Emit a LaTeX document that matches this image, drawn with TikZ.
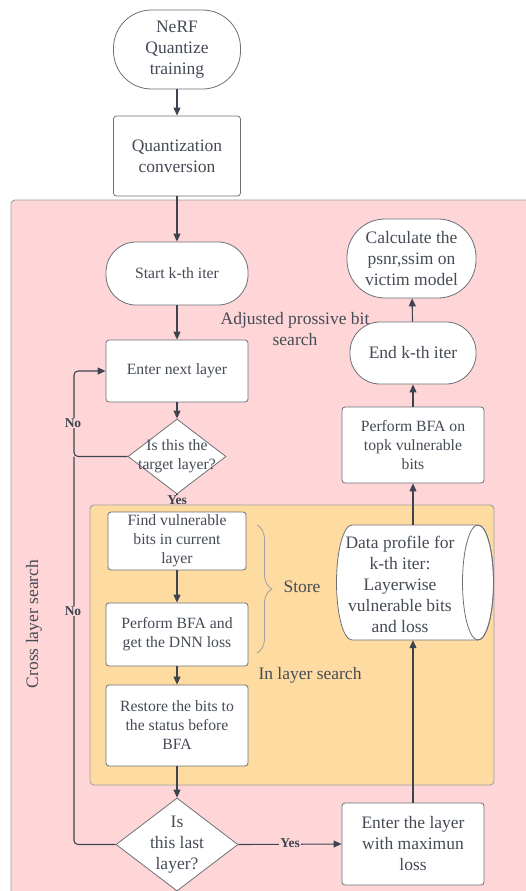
\documentclass[tikz,border=0pt]{standalone}
\usepackage{fontspec}
\setmainfont{Liberation Serif}
\usepackage{tikz}
\usetikzlibrary{shapes.geometric,arrows.meta,decorations.pathreplacing}
\definecolor{vpink}{HTML}{FFD6D7}
\definecolor{vorange}{HTML}{FEDBA0}
\definecolor{vline}{HTML}{3D4450}
\definecolor{vtext}{HTML}{454B55}
\definecolor{vborder}{HTML}{6B7078}
\definecolor{vframe}{HTML}{A0A0A0}
\newcommand{\bigtxt}{\fontsize{17.5}{21}\selectfont}
\newcommand{\midtxt}{\fontsize{15.7}{19}\selectfont}
\newcommand{\lbltxt}{\fontsize{13.5}{15}\selectfont\bfseries}
\tikzset{
	base/.style={draw=vborder, fill=white, text=vtext, align=center, line width=0.8pt, inner sep=0pt},
	term/.style={base, rounded corners=#1},
	proc/.style={base, rounded corners=3pt},
	decision/.style={base, diamond},
	conn/.style={draw=vline, line width=1.1pt},
	arr/.style={conn, -{Triangle[length=8pt,width=7pt]}},
	yesno/.style={text=vline, font=\lbltxt, inner sep=1pt},
	note/.style={text=vtext, font=\bigtxt, align=center},
}
\begin{document}
\begin{tikzpicture}[x=1pt, y=-1pt]
	\useasboundingbox (0,0) rectangle (525,891);
	\draw[draw=vframe, fill=vpink, rounded corners=4pt, line width=0.9pt] (11,200) rectangle (545,915);
	\draw[draw=vframe, fill=vorange, rounded corners=4pt, line width=0.9pt] (90,505) rectangle (494,785);
	\coordinate (lx) at (74,0);
	\node[term=38pt, font=\bigtxt, minimum width=127pt, minimum height=79pt] (nerf) at (177,49.5) {NeRF\\Quantize\\training};
	\node[proc, font=\bigtxt, minimum width=127pt, minimum height=80pt] (quant) at (177,156) {Quantization\\conversion};
	\node[term=30pt, font=\midtxt, minimum width=142pt, minimum height=63pt] (start) at (177,273.5) {Start k-th iter};
	\node[proc, font=\midtxt, minimum width=142pt, minimum height=62pt] (next) at (177,371) {Enter next layer};
	\node[decision, minimum width=98pt, minimum height=75pt, label={[font=\midtxt, text=vtext, align=center]center:Is this the\\target layer?}] (tgt) at (177,456.5) {};
	\node[proc, font=\midtxt, minimum width=138pt, minimum height=58pt] (find) at (177,541) {Find vulnerable\\bits in current\\layer};
	\node[proc, font=\midtxt, minimum width=142pt, minimum height=63pt] (bfa) at (177,634.5) {Perform BFA and\\get the DNN loss};
	\node[proc, font=\midtxt, minimum width=142pt, minimum height=81pt] (rest) at (177,725.5) {Restore the bits to\\the status before\\BFA};
	\node[decision, minimum width=122pt, minimum height=93pt, label={[font=\bigtxt, text=vtext, align=center]center:Is\\this last\\layer?}] (last) at (177,844.5) {};
	\node[proc, font=\bigtxt, minimum width=142pt, minimum height=82pt] (maxl) at (413,844) {Enter the layer\\with maximun\\loss};
	\draw[draw=vborder, fill=white, line width=0.8pt] (478,525) -- (352,525) arc[start angle=90, end angle=270, x radius=15.5pt, y radius=57.5pt] -- (478,640) arc[start angle=-90, end angle=90, x radius=15.5pt, y radius=57.5pt] -- cycle;
	\draw[draw=vborder, line width=0.8pt] (478,582.5) ellipse[x radius=15.5pt, y radius=57.5pt];
	\node[minimum width=142pt, minimum height=115pt, inner sep=0pt] (prof) at (413,582.5) {};
	\node[note] (proftxt) at (400,584.5) {Data profile for\\k-th iter:\\Layerwise\\vulnerable bits\\and loss};
	\node[proc, font=\midtxt, minimum width=142pt, minimum height=76pt] (topk) at (413,445) {Perform BFA on\\topk vulnerable\\bits};
	\node[term=30pt, font=\bigtxt, minimum width=126pt, minimum height=62pt] (endk) at (413,353) {End k-th iter};
	\node[term=38pt, font=\bigtxt, minimum width=129pt, minimum height=79pt] (calc) at (411.5,258.5) {Calculate the\\psnr,ssim on\\victim model};
	\node[note] (adj) at (295,329) {Adjusted prossive bit\\search};
	\node[note] (store) at (302,587) {Store};
	\node[note] (inl) at (310,675) {In layer search};
	\node[note, rotate=90] (cross) at (34,624) {Cross layer search};
	\draw[decorate, decoration={brace, amplitude=15pt}, draw=vframe, line width=0.8pt] (257,525) -- (257,653);
	\draw[arr] (nerf) -- (quant);
	\draw[arr] (quant) -- (start);
	\draw[arr] (start) -- (next);
	\draw[arr] (next) -- (tgt);
	\draw[arr, rounded corners=4pt] (tgt.west) -- (tgt.west -| lx) |- (next.west);
	\node[yesno] (yes1) at (177,500) {Yes};
	\draw[conn] (tgt.south) -- (yes1.north);
	\draw[arr] (find) -- (bfa);
	\draw[arr] (bfa) -- (rest);
	\draw[arr] (rest) -- (last);
	\draw[conn, rounded corners=4pt] (last.west) -- (last.west -| lx) -- (tgt.west -| lx);
	\node[yesno, fill=vpink] (no1) at (73,423) {No};
	\node[yesno, fill=vpink] (no2) at (73,611) {No};
	\draw[arr] (last.east) -- (maxl.west);
	\node[yesno, fill=vpink] (yes2) at (290,843) {Yes};
	\draw[arr] (maxl.north) -- (prof.south);
	\draw[arr] (prof.north) -- (topk.south);
	\draw[arr] (topk) -- (endk);
	\draw[arr] (endk) -- (calc);
\end{tikzpicture}
\end{document}
